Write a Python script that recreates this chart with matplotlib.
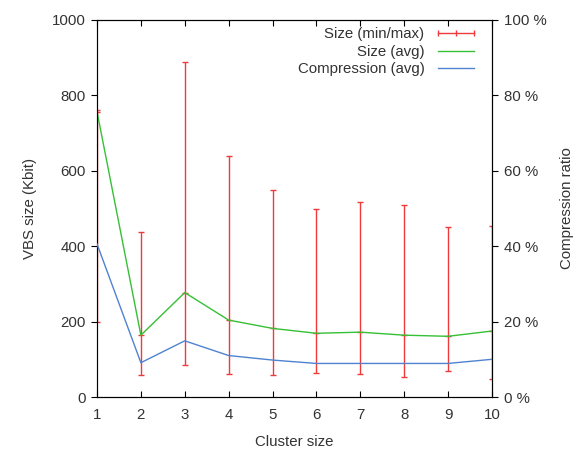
import numpy as np
import matplotlib
matplotlib.use('Agg')
import matplotlib.pyplot as plt
from matplotlib.lines import Line2D

plt.rcParams['font.family'] = ['Liberation Sans', 'DejaVu Sans']
plt.rcParams['font.size'] = 10.8

# data
cluster_size = [1, 2, 3, 4, 5, 6, 7, 8, 9, 10]
size_min = [200, 59, 84, 62, 59, 64, 61, 53, 69, 49]
size_max = [760, 438, 889, 639, 548, 498, 518, 508, 451, 454]
size_avg = [757, 164, 277, 204, 182, 169, 172, 164, 161, 175]
compression_avg = [40.6, 9.1, 14.9, 11.0, 9.8, 8.9, 8.9, 8.9, 8.9, 10.0]

red = '#f03a3a'
green = '#35c035'
blue = '#4f82d0'
text_col = '#333333'

fig = plt.figure(figsize=(5.76, 4.49), dpi=100)
ax = fig.add_axes([0.1684, 0.1158, 0.854 - 0.1684, 0.9555 - 0.1158])

x = np.array(cluster_size)
avg = np.array(size_avg)
yerr = [avg - np.array(size_min), np.array(size_max) - avg]

ax.errorbar(x, avg, yerr=yerr, fmt='none', ecolor=red, elinewidth=1,
            capsize=2.2, capthick=1, zorder=2)
ax.plot(x, avg, linestyle='none', marker='_', color=red, markersize=4.5,
        markeredgewidth=1, zorder=2)
ax.plot(x, avg, color=green, linewidth=1, zorder=3)

ax.set_xlim(1, 10)
ax.set_ylim(0, 1000)
ax.set_xticks(cluster_size)
ax.set_yticks(np.arange(0, 1001, 200))
ax.tick_params(axis='x', direction='in', top=True, length=4, colors='black',
               labelcolor=text_col, pad=8)
ax.tick_params(axis='y', direction='out', length=4, labelcolor=text_col, pad=4)
ax.set_xlabel('Cluster size', color=text_col, labelpad=9)
ax.set_ylabel('VBS size (Kbit)', color=text_col, labelpad=11)
ax.spines['left'].set_color('#666666')

ax2 = ax.twinx()
ax2.plot(x, compression_avg, color=blue, linewidth=1, zorder=3)
ax2.set_ylim(0, 100)
ax2.set_yticks(np.arange(0, 101, 20))
ax2.set_yticklabels(['{} %'.format(v) for v in range(0, 101, 20)])
ax2.tick_params(axis='y', direction='out', length=4, labelcolor=text_col, pad=5)
ax2.set_ylabel('Compression ratio', color=text_col, labelpad=9)

handles = [
    Line2D([], [], color=red, marker='|', markersize=5, linewidth=1),
    Line2D([], [], color=green, linewidth=1),
    Line2D([], [], color=blue, linewidth=1),
]
labels = ['Size (min/max)', 'Size (avg)', 'Compression (avg)']
leg = ax2.legend(handles, labels, loc='upper right', frameon=False,
                 markerfirst=False, numpoints=3, handlelength=3.0,
                 handletextpad=0.6, labelspacing=0.22, borderaxespad=0.2,
                 borderpad=0.3, bbox_to_anchor=(0.985, 1.0))
for t in leg.get_texts():
    t.set_color(text_col)

plt.savefig('out.png', dpi=100)
